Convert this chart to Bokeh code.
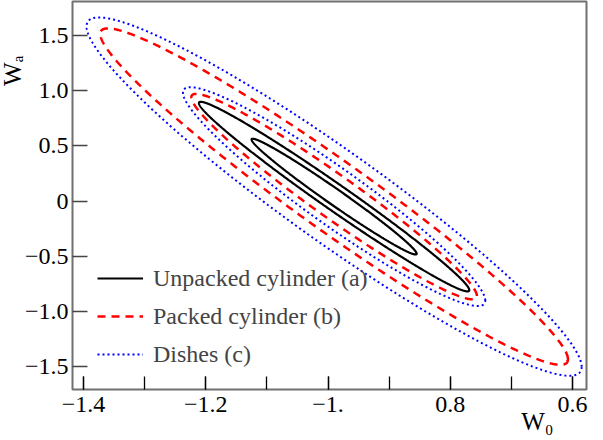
import numpy as np
from bokeh.plotting import figure
from bokeh.models import FixedTicker, Legend, LegendItem, Range1d, Title
from bokeh.embed import file_html
from bokeh.resources import INLINE

# ---- data (Fisher-forecast ellipses in the w0-wa plane) ----
configs = ["Unpacked cylinder (a)", "Packed cylinder (b)", "Dishes (c)"]
colors = ["black", "red", "blue"]
dashes = ["solid", "8 6", "2 3"]
widths = [2.2, 2.5, 2.0]
fid_w0 = -0.99
fid_wa = 0.04
sigma_w0 = [0.089, 0.154, 0.163]
sigma_wa = [0.346, 0.614, 0.654]
rho = [-0.986, -0.967, -0.950]
delta_chi2 = [2.30, 6.17]  # 68% and 95% contours

x_ticks = [-1.4, -1.2, -1.0, -0.8, -0.6]
x_tick_labels = ["\u22121.4", "\u22121.2", "\u22121.", "0.8", "0.6"]
x_minor = [-1.4, -1.3, -1.2, -1.1, -1.0, -0.9, -0.8, -0.7, -0.6]
y_ticks = [1.5, 1.0, 0.5, 0.0, -0.5, -1.0, -1.5]
y_tick_labels = ["1.5", "1.0", "0.5", "0", "\u22120.5", "\u22121.0", "\u22121.5"]
x_title = "W\u2080"
y_title = "W\u2090"

FONT = "Liberation Serif"
W, H = 603, 440

p = figure(width=W, height=H,
           x_range=Range1d(-1.4179, -0.5772), y_range=Range1d(-1.709, 1.809),
           output_backend="svg", toolbar_location=None,
           min_border_left=70, min_border_right=17, min_border_top=1, min_border_bottom=51)
p.xgrid.visible = False
p.ygrid.visible = False
p.outline_line_color = "#707070"
p.outline_line_width = 2
p.outline_line_alpha = 1.0
p.background_fill_color = "white"
p.border_fill_color = "white"

t = np.linspace(0, 2 * np.pi, 721)
circle = np.vstack([np.cos(t), np.sin(t)])
legend_renderers = []
for i in range(len(configs)):
    cov = np.array([[sigma_w0[i] ** 2, rho[i] * sigma_w0[i] * sigma_wa[i]],
                    [rho[i] * sigma_w0[i] * sigma_wa[i], sigma_wa[i] ** 2]])
    L = np.linalg.cholesky(cov)
    r = None
    for k in delta_chi2:
        pts = np.sqrt(k) * (L @ circle)
        r = p.line(fid_w0 + pts[0], fid_wa + pts[1], line_color=colors[i],
                   line_width=widths[i], line_dash=dashes[i])
    legend_renderers.append(r)

# axes
ax = p.xaxis[0]
ax.ticker = FixedTicker(ticks=x_ticks, minor_ticks=x_minor)
ax.major_label_overrides = dict(zip(x_ticks, x_tick_labels))
ax.major_tick_in = 13
ax.major_tick_out = 0
ax.minor_tick_in = 13
ax.minor_tick_out = 0
ax.major_tick_line_color = "black"
ax.minor_tick_line_color = "black"
ax.major_tick_line_width = 1.3
ax.minor_tick_line_width = 1.3
ax.axis_line_color = None
ax.major_label_text_font = FONT
ax.major_label_text_font_size = "24px"
ax.major_label_text_color = "black"
ax.major_label_standoff = 7

ay = p.yaxis[0]
ay.ticker = FixedTicker(ticks=y_ticks, minor_ticks=[])
ay.major_label_overrides = dict(zip(y_ticks, y_tick_labels))
ay.major_tick_in = 15
ay.major_tick_out = 0
ay.minor_tick_line_color = None
ay.major_tick_line_color = "#444444"
ay.major_tick_line_width = 1.3
ay.axis_line_color = None
ay.major_label_text_font = FONT
ay.major_label_text_font_size = "24px"
ay.major_label_text_color = "black"
ay.major_label_standoff = 4

# axis titles as side-panel titles
p.add_layout(Title(text=y_title, align="right", offset=54, standoff=-8,
                   text_font=FONT, text_font_size="25px", text_font_style="normal",
                   text_color="black"), "left")
p.add_layout(Title(text=x_title, align="right", offset=33, standoff=-17,
                   text_font=FONT, text_font_size="25px", text_font_style="normal",
                   text_color="black"), "below")

legend = Legend(items=[LegendItem(label=configs[i], renderers=[legend_renderers[i]])
                       for i in range(len(configs))],
                location=(25, 21), label_text_font=FONT, label_text_font_size="24px",
                glyph_width=46, glyph_height=28, label_height=28, spacing=10,
                padding=5, margin=0, label_standoff=10,
                border_line_color=None, background_fill_alpha=0)
p.add_layout(legend)

open("out.html", "w").write(file_html(p, INLINE))
